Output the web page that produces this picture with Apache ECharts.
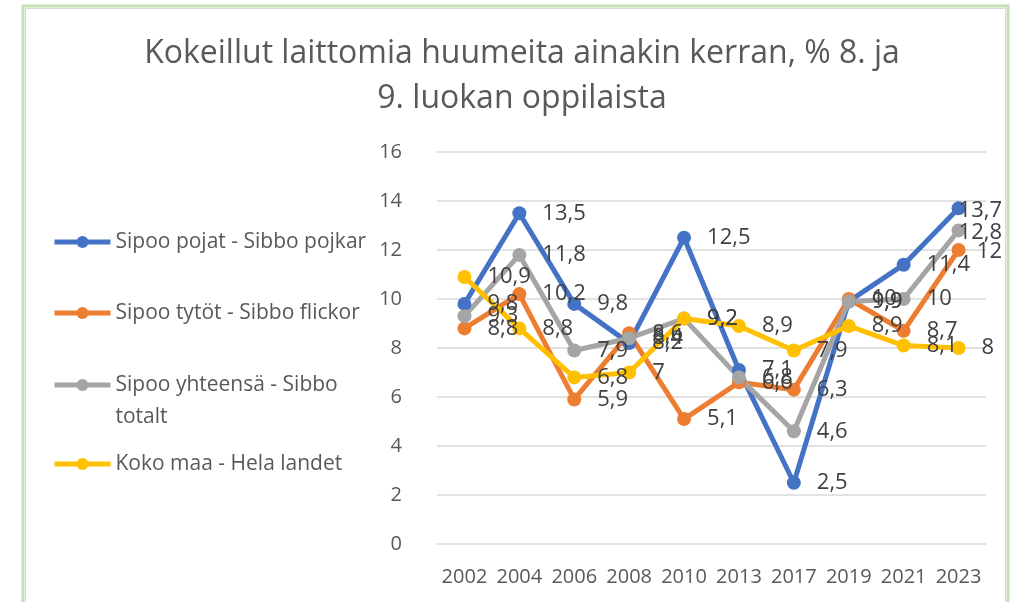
<!DOCTYPE html>
<html>
<head>
<meta charset="utf-8">
<script src="https://cdn.jsdelivr.net/npm/echarts@6/dist/echarts.min.js"></script>
<style>
  html, body { margin: 0; padding: 0; background: #ffffff; }
  #chart { width: 1021px; height: 602px; }
</style>
</head>
<body>
<div id="chart"></div>
<script>
// Survey years (x categories)
const years = ['2002', '2004', '2006', '2008', '2010', '2013', '2017', '2019', '2021', '2023'];

// Series names
const seriesNames = [
  'Sipoo pojat - Sibbo pojkar',
  'Sipoo tytöt - Sibbo flickor',
  'Sipoo yhteensä - Sibbo totalt',
  'Koko maa - Hela landet'
];

// Share (%) who have tried illegal drugs at least once
const boys     = [9.8, 13.5, 9.8, 8.2, 12.5, 7.1, 2.5, 9.9, 11.4, 13.7];
const girls    = [8.8, 10.2, 5.9, 8.6, 5.1, 6.6, 6.3, 10, 8.7, 12];
const total    = [9.3, 11.8, 7.9, 8.4, 9.2, 6.8, 4.6, 9.9, 10, 12.8];
const national = [10.9, 8.8, 6.8, 7, 9.2, 8.9, 7.9, 8.9, 8.1, 8];

const seriesValues = [boys, girls, total, national];
const colors = ['#4472C4', '#ED7D31', '#A5A5A5', '#FFC000'];

const FONT = '"Open Sans", "Noto Sans", sans-serif';
const LABEL_RIGHT_LIMIT = 1002;

const chart = echarts.init(document.getElementById('chart'), null, { renderer: 'canvas' });

// Each legend entry is its own block so it can sit at its own height.
// The entry that wraps gets an empty leading line so that its first
// text line stays level with the icon and the second hangs below.
const legendTops = [226, 297, 337, 448];
const legendLead = ['', '', '\n', ''];

const option = {
  backgroundColor: '#ffffff',
  animation: false,
  title: {
    text: 'Kokeillut laittomia huumeita ainakin kerran, % 8. ja\n9. luokan oppilaista',
    left: 517,
    textAlign: 'center',
    top: 26,
    textStyle: {
      fontFamily: FONT,
      fontWeight: 'normal',
      fontSize: 32,
      lineHeight: 45,
      color: '#595959'
    }
  },
  graphic: [
    {
      type: 'rect',
      silent: true,
      shape: { x: 23, y: 6, width: 985, height: 620 },
      style: { fill: 'none', stroke: '#C5E0B4', lineWidth: 3 }
    },
    {
      type: 'rect',
      silent: true,
      shape: { x: 25.5, y: 8.5, width: 980, height: 620 },
      style: { fill: 'none', stroke: '#D9D9D9', lineWidth: 1 }
    }
  ],
  legend: seriesNames.map((name, i) => ({
    data: [name],
    orient: 'vertical',
    left: 52,
    top: legendTops[i],
    padding: 0,
    itemWidth: 56,
    itemHeight: 15,
    lineStyle: { width: 5 },
    formatter: (n) => legendLead[i] + n,
    textStyle: {
      fontFamily: FONT,
      fontSize: 21,
      color: '#595959',
      width: 255,
      overflow: 'break',
      lineHeight: 32
    }
  })),
  grid: {
    left: 437,
    right: 35,
    top: 152,
    bottom: 58,
    containLabel: false
  },
  xAxis: {
    type: 'category',
    data: years,
    boundaryGap: true,
    axisLine: { show: false },
    axisTick: { show: false },
    axisLabel: {
      interval: 0,
      margin: 23,
      fontFamily: FONT,
      fontSize: 20,
      color: '#595959'
    }
  },
  yAxis: {
    type: 'value',
    min: 0,
    max: 16,
    interval: 2,
    axisLine: { show: false },
    axisTick: { show: false },
    splitLine: { lineStyle: { color: '#D9D9D9', width: 1.5 } },
    axisLabel: {
      margin: 35,
      fontFamily: FONT,
      fontSize: 20,
      color: '#595959'
    }
  },
  series: seriesNames.map((name, i) => ({
    name: name,
    type: 'line',
    data: seriesValues[i],
    color: colors[i],
    symbol: 'circle',
    symbolSize: 14,
    lineStyle: { width: 5, color: colors[i] },
    itemStyle: { color: colors[i] },
    label: {
      show: true,
      position: 'right',
      distance: 16,
      offset: [0, 2],
      fontFamily: FONT,
      fontSize: 22,
      color: '#404040',
      formatter: (p) => String(p.value).replace('.', ',')
    },
    // keep value labels inside the chart frame on the right-hand side
    labelLayout: (params) => {
      const r = params.labelRect;
      if (r.x + r.width > LABEL_RIGHT_LIMIT) {
        return {
          x: LABEL_RIGHT_LIMIT - r.width,
          y: r.y + r.height / 2,
          align: 'left',
          verticalAlign: 'middle',
          moveOverlap: false
        };
      }
      return { moveOverlap: false };
    },
    emphasis: { disabled: true }
  }))
};

chart.setOption(option);
</script>
</body>
</html>
